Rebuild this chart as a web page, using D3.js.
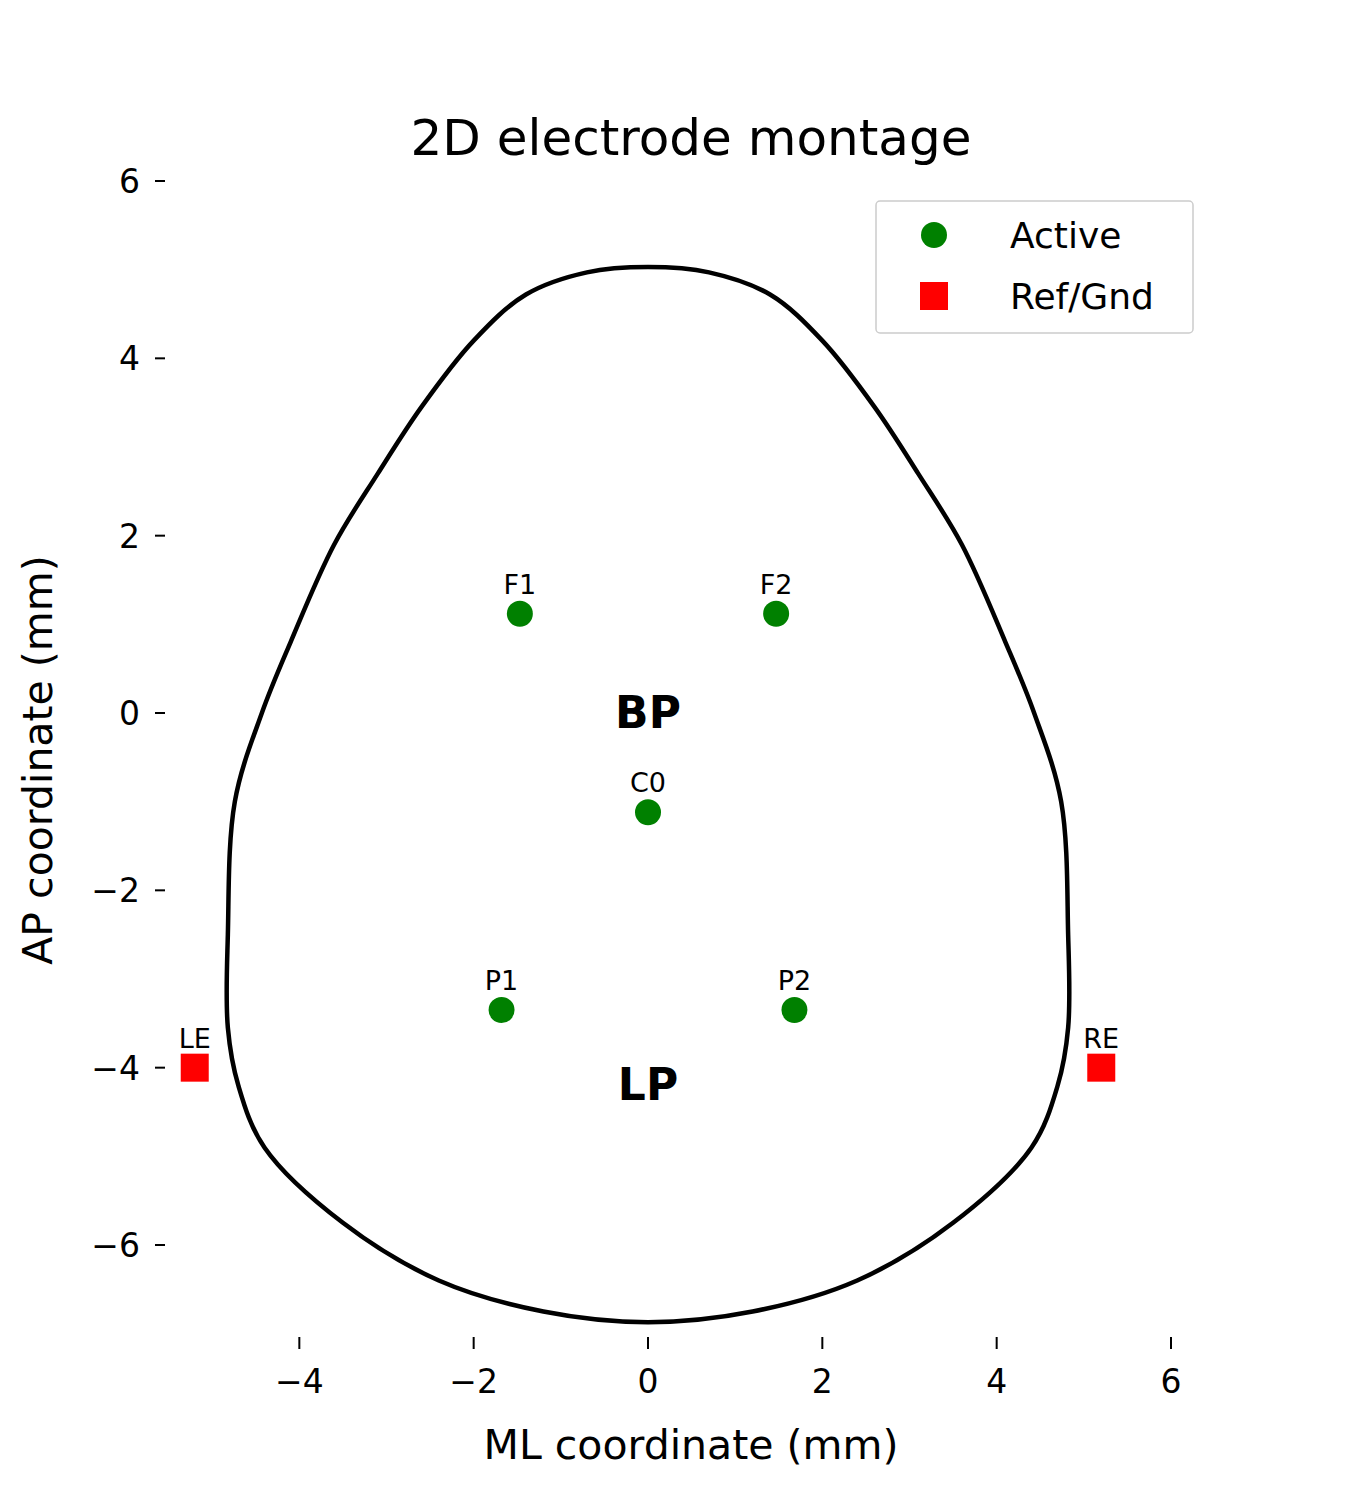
<!DOCTYPE html>
<html><head><meta charset="utf-8">
<script src="https://cdn.jsdelivr.net/npm/d3@7"></script>
<style>body{margin:0;background:#fff}text{font-family:"DejaVu Sans",sans-serif}</style>
</head><body><div id="chart"></div>
<script>
// head outline (ML, AP) in mm, clockwise from the top
const outline = [
  [0,5.03],[0.7,4.97],[1.4,4.72],[2.0,4.2],[2.6,3.45],[3.1,2.7],[3.6,1.9],[4.1,0.8],[4.43,0.0],
  [4.74,-1.0],[4.82,-2.5],[4.82,-3.55],[4.7,-4.2],[4.4,-4.9],[3.5,-5.75],[2.4,-6.4],[1.2,-6.75],[0,-6.87],
  [-1.2,-6.75],[-2.4,-6.4],[-3.5,-5.75],[-4.4,-4.9],[-4.7,-4.2],[-4.82,-3.55],[-4.82,-2.5],
  [-4.74,-1.0],[-4.43,0.0],[-4.1,0.8],[-3.6,1.9],[-3.1,2.7],[-2.6,3.45],[-2.0,4.2],[-1.4,4.72],[-0.7,4.97]
];
const active = [
  {name:"F1", x:-1.47, y:1.12},{name:"F2", x:1.47, y:1.12},{name:"C0", x:0, y:-1.12},
  {name:"P1", x:-1.68, y:-3.35},{name:"P2", x:1.68, y:-3.35}
];
const refs = [{name:"LE", x:-5.2, y:-4},{name:"RE", x:5.2, y:-4}];
const regions = [{name:"BP", x:0, y:0},{name:"LP", x:0, y:-4.2}];
const xTicks = [-4,-2,0,2,4,6];
const yTicks = [-6,-4,-2,0,2,4,6];

const W = 1350, H = 1500;
const svg = d3.select("#chart").append("svg").attr("width", W).attr("height", H);

const x = d3.scaleLinear().domain([0, 6]).range([648, 1171]);
const y = d3.scaleLinear().domain([0, 6]).range([713, 181]);

svg.append("text").attr("x", 691).attr("y", 155).attr("text-anchor", "middle")
  .attr("font-size", 50).text("2D electrode montage");

// y ticks
yTicks.forEach(t => {
  svg.append("line").attr("x1", 155).attr("x2", 165).attr("y1", y(t)).attr("y2", y(t)).attr("stroke", "#000").attr("stroke-width", 2);
  svg.append("text").attr("x", 140).attr("y", y(t) + 12).attr("text-anchor", "end").attr("font-size", 33)
    .text(t < 0 ? "\u2212" + Math.abs(t) : t);
});
// x ticks
xTicks.forEach(t => {
  svg.append("line").attr("x1", x(t)).attr("x2", x(t)).attr("y1", 1337).attr("y2", 1349).attr("stroke", "#000").attr("stroke-width", 2);
  svg.append("text").attr("x", x(t)).attr("y", 1393).attr("text-anchor", "middle").attr("font-size", 33)
    .text(t < 0 ? "\u2212" + Math.abs(t) : t);
});

svg.append("text").attr("x", 691).attr("y", 1459).attr("text-anchor", "middle").attr("font-size", 41).text("ML coordinate (mm)");
svg.append("text").attr("transform", "translate(52,760) rotate(-90)").attr("text-anchor", "middle").attr("font-size", 41).text("AP coordinate (mm)");

const line = d3.line().x(d => x(d[0])).y(d => y(d[1])).curve(d3.curveCatmullRomClosed.alpha(0.5));
svg.append("path").attr("d", line(outline)).attr("fill", "none").attr("stroke", "#000").attr("stroke-width", 4.5);

svg.selectAll("circle.act").data(active).join("circle").attr("class", "act")
  .attr("cx", d => x(d.x)).attr("cy", d => y(d.y)).attr("r", 13).attr("fill", "#008000");
svg.selectAll("rect.ref").data(refs).join("rect").attr("class", "ref")
  .attr("x", d => x(d.x) - 14).attr("y", d => y(d.y) - 14).attr("width", 28).attr("height", 28).attr("fill", "#ff0000");
svg.selectAll("text.lab").data(active.concat(refs)).join("text").attr("class", "lab")
  .attr("x", d => x(d.x)).attr("y", d => y(d.y) - 20).attr("text-anchor", "middle").attr("font-size", 27).text(d => d.name);
svg.selectAll("text.reg").data(regions).join("text").attr("class", "reg")
  .attr("x", d => x(d.x)).attr("y", d => y(d.y) + 15).attr("text-anchor", "middle")
  .attr("font-size", 44).attr("font-weight", "bold").text(d => d.name);

// legend
const lg = svg.append("g");
lg.append("rect").attr("x", 876).attr("y", 201).attr("width", 317).attr("height", 132).attr("rx", 4)
  .attr("fill", "#fff").attr("stroke", "#ccc").attr("stroke-width", 1.5);
lg.append("circle").attr("cx", 934).attr("cy", 235).attr("r", 13).attr("fill", "#008000");
lg.append("rect").attr("x", 920).attr("y", 282).attr("width", 28).attr("height", 28).attr("fill", "#ff0000");
lg.append("text").attr("x", 1010).attr("y", 248).attr("font-size", 36).text("Active");
lg.append("text").attr("x", 1010).attr("y", 309).attr("font-size", 36).text("Ref/Gnd");
</script></body></html>
